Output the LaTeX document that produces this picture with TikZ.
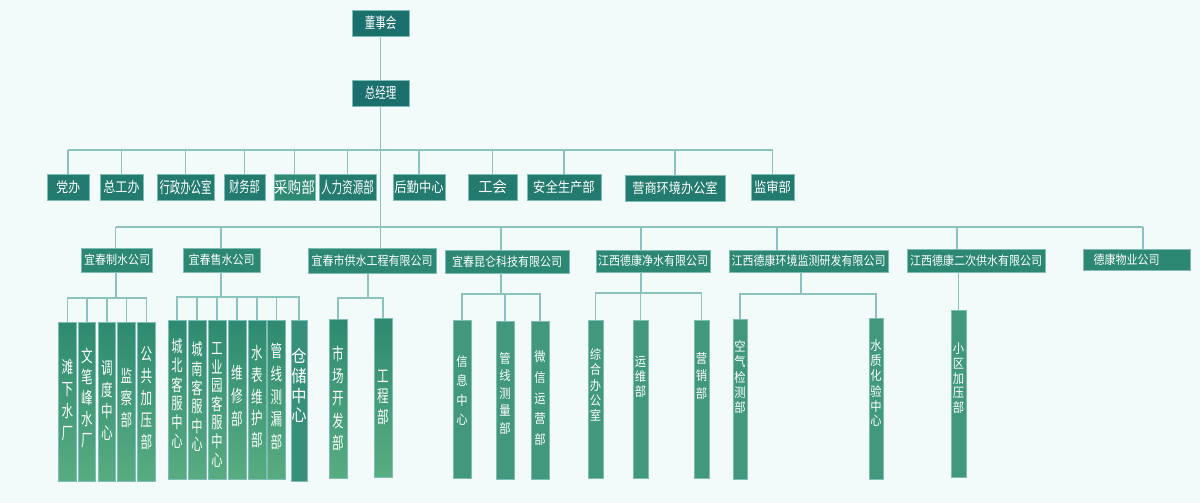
\documentclass[tikz,border=0pt]{standalone}
\usepackage{fontspec}
\usepackage{graphicx}
\newfontfamily\cjk{Noto Sans CJK SC}
\definecolor{bgC}{HTML}{F2FBFA}
\definecolor{lineC}{HTML}{8DC3BE}
\definecolor{borderC}{HTML}{7EBDB5}
\definecolor{topC}{HTML}{1B6F6C}
\definecolor{deptC}{HTML}{237A6E}
\definecolor{cgC}{HTML}{2E8A73}
\definecolor{compC}{HTML}{2C8873}
\definecolor{subTop}{HTML}{2E8A70}
\definecolor{subBot}{HTML}{58AC81}
\definecolor{subFlat}{HTML}{42987D}
\definecolor{storeC}{HTML}{37917A}
\newcommand\sx[3]{\fontsize{#2}{#2}\selectfont\scalebox{#1}[1]{#3}}
\newcommand\vt[4]{\scalebox{#1}[1]{\fontsize{#2}{#3}\selectfont\begin{tabular}{@{}c@{}}#4\end{tabular}}}
\begin{document}
\begin{tikzpicture}[x=1pt,y=-1pt,
  conn/.style={draw=lineC, line width=1.8pt},
  box/.style={draw=borderC, line width=0.6pt, inner sep=0pt, text=white, font=\cjk},
  topbox/.style={box, fill=topC, minimum height=26pt, minimum width=57pt},
  deptbox/.style={box, fill=deptC, minimum height=26pt},
  compbox/.style={box, fill=compC},
  subbox/.style={box, top color=subTop, bottom color=subBot},
  subflat/.style={box, fill=subFlat},
  vtext/.style={inner sep=0pt, text=white, font=\cjk}
]
\useasboundingbox (0,0) rectangle (1200,503);
\fill[bgC] (0,0) rectangle (1200,503);

% top
\node[topbox] (board) at (380.5,23) {\sx{0.7}{15}{董事会}};
\node[topbox] (gm) at (380.5,93) {\sx{0.7}{15}{总经理}};

% departments
\node[deptbox, minimum width=42.5pt] (d1) at (68.3,187) {\sx{0.85}{14}{党办}};
\node[deptbox, minimum width=43pt] (d2) at (121.5,187) {\sx{0.83}{14.5}{总工办}};
\node[deptbox, minimum width=57pt] (d3) at (185.5,187) {\sx{0.65}{16}{行政办公室}};
\node[deptbox, minimum width=41pt] (d4) at (244.5,187) {\sx{0.68}{15}{财务部}};
\node[deptbox, fill=cgC, minimum width=41pt] (d5) at (294.5,187) {\sx{0.85}{16}{采购部}};
\node[deptbox, minimum width=57pt] (d6) at (347.5,187) {\sx{0.66}{16}{人力资源部}};
\node[deptbox, minimum width=52pt] (d7) at (419,187) {\sx{0.88}{14}{后勤中心}};
\node[deptbox, minimum width=49pt] (d8) at (492.5,187) {\sx{0.95}{15}{工会}};
\node[deptbox, minimum width=74pt] (d9) at (564,187) {\sx{0.88}{14}{安全生产部}};
\node[deptbox, minimum width=100pt] (d10) at (675,188) {\sx{0.87}{14}{营商环境办公室}};
\node[deptbox, minimum width=43pt] (d11) at (772.5,187) {\sx{0.88}{14}{监审部}};

% companies
\node[compbox, minimum width=71pt, minimum height=24pt] (c1) at (117,260) {\sx{0.88}{12.5}{宜春制水公司}};
\node[compbox, minimum width=77pt, minimum height=24pt] (c2) at (221.5,260) {\sx{0.88}{12.5}{宜春售水公司}};
\node[compbox, minimum width=128pt, minimum height=25pt] (c3) at (372,260.5) {\sx{0.88}{12.5}{宜春市供水工程有限公司}};
\node[compbox, minimum width=124pt, minimum height=23pt] (c4) at (507,261.5) {\sx{0.88}{12.5}{宜春昆仑科技有限公司}};
\node[compbox, minimum width=114pt, minimum height=22pt] (c5) at (653,261) {\sx{0.88}{12.5}{江西德康净水有限公司}};
\node[compbox, minimum width=159pt, minimum height=22pt] (c6) at (808.5,261) {\sx{0.88}{12.5}{江西德康环境监测研发有限公司}};
\node[compbox, minimum width=138pt, minimum height=23pt] (c7) at (976,260.5) {\sx{0.88}{12.5}{江西德康二次供水有限公司}};
\node[compbox, minimum width=107pt, minimum height=21pt] (c8) at (1136.5,259.5) {\hspace*{-20pt}\sx{0.88}{12.5}{德康物业公司}};

% sub units: 宜春制水公司
\node[subbox, minimum width=17.5pt, minimum height=159pt] (s1a) at (67.5,401.5) {};
\node[subbox, minimum width=17.5pt, minimum height=159pt] (s1b) at (87,401.5) {};
\node[subbox, minimum width=17.5pt, minimum height=159pt] (s1c) at (107,401.5) {};
\node[subbox, minimum width=17.5pt, minimum height=159pt] (s1d) at (126.5,401.5) {};
\node[subbox, minimum width=17.5pt, minimum height=159pt] (s1e) at (146.5,401.5) {};
\node[vtext] (t1a) at (67.5,402) {\vt{0.68}{17}{22}{滩\\下\\水\\厂}};
\node[vtext] (t1b) at (87,400.3) {\vt{0.68}{17}{21}{文\\笔\\峰\\水\\厂}};
\node[vtext] (t1c) at (107,402.7) {\vt{0.68}{17}{21.5}{调\\度\\中\\心}};
\node[vtext] (t1d) at (126.5,400.3) {\vt{0.68}{17}{22}{监\\察\\部}};
\node[vtext] (t1e) at (146.5,400.3) {\vt{0.68}{17}{22}{公\\共\\加\\压\\部}};

% 宜春售水公司
\node[subbox, minimum width=18pt, minimum height=159pt] (s2a) at (177,399.5) {};
\node[subbox, minimum width=18pt, minimum height=159pt] (s2b) at (197,399.5) {};
\node[subbox, minimum width=18pt, minimum height=159pt] (s2c) at (217,399.5) {};
\node[subbox, minimum width=18pt, minimum height=159pt] (s2d) at (237,399.5) {};
\node[subbox, minimum width=18pt, minimum height=159pt] (s2e) at (257,399.5) {};
\node[subbox, minimum width=18pt, minimum height=159pt] (s2f) at (276.5,399.5) {};
\node[box, fill=storeC, minimum width=16pt, minimum height=161pt] (s2g) at (299,400.5) {};
\node[vtext] (t2a) at (177,395.8) {\vt{0.68}{16.5}{17.7}{城\\北\\客\\服\\中\\心}};
\node[vtext] (t2b) at (197,399) {\vt{0.68}{16.5}{17.7}{城\\南\\客\\服\\中\\心}};
\node[vtext] (t2c) at (217,407) {\vt{0.68}{16.5}{16.6}{工\\业\\园\\客\\服\\中\\心}};
\node[vtext] (t2d) at (237,397.7) {\vt{0.68}{17}{22.8}{维\\修\\部}};
\node[vtext] (t2e) at (257,398.7) {\vt{0.68}{17}{21.8}{水\\表\\维\\护\\部}};
\node[vtext] (t2f) at (276.5,398.7) {\vt{0.68}{17}{22.7}{管\\线\\测\\漏\\部}};
\node[vtext] (t2g) at (299,387.8) {\vt{0.9}{17}{18.6}{仓\\储\\中\\心}};

% 宜春市供水工程有限公司
\node[subbox, minimum width=18pt, minimum height=159pt] (s3a) at (338,398.5) {};
\node[subbox, minimum width=18pt, minimum height=159pt] (s3b) at (383,397.5) {};
\node[vtext] (t3a) at (338,400.3) {\vt{0.68}{17}{22.3}{市\\场\\开\\发\\部}};
\node[vtext] (t3b) at (383,399) {\vt{0.68}{17}{20}{工\\程\\部}};

% 宜春昆仑科技有限公司
\node[subflat, minimum width=18pt, minimum height=158pt] (s4a) at (462,399) {};
\node[subflat, minimum width=18pt, minimum height=158pt] (s4b) at (505,400) {};
\node[subflat, minimum width=18pt, minimum height=158pt] (s4c) at (540,400) {};
\node[vtext] (t4a) at (462,391.5) {\vt{0.87}{13}{19.4}{信\\息\\中\\心}};
\node[vtext] (t4b) at (505,394.8) {\vt{0.87}{13}{17.4}{管\\线\\测\\量\\部}};
\node[vtext] (t4c) at (540,399) {\vt{0.87}{13}{20.6}{微\\信\\运\\营\\部}};

% 江西德康净水有限公司
\node[subflat, minimum width=15pt, minimum height=158pt] (s5a) at (595.5,399) {};
\node[subflat, minimum width=15pt, minimum height=158pt] (s5b) at (640.5,399) {};
\node[subflat, minimum width=15pt, minimum height=158pt] (s5c) at (701.5,399) {};
\node[vtext] (t5a) at (595.5,386.7) {\vt{0.87}{13}{14.3}{综\\合\\办\\公\\室}};
\node[vtext] (t5b) at (640.5,378.7) {\vt{0.87}{13}{14.7}{运\\维\\部}};
\node[vtext] (t5c) at (701.5,377) {\vt{0.87}{13}{17.5}{营\\销\\部}};

% 江西德康环境监测研发有限公司
\node[subflat, minimum width=14pt, minimum height=160pt] (s6a) at (740,399) {};
\node[subflat, minimum width=14pt, minimum height=161pt] (s6b) at (876,398.5) {};
\node[vtext] (t6a) at (740,378.7) {\vt{0.87}{13}{14.3}{空\\气\\检\\测\\部}};
\node[vtext] (t6b) at (876,385) {\vt{0.87}{13}{14}{水\\质\\化\\验\\中\\心}};

% 江西德康二次供水有限公司
\node[subflat, minimum width=15pt, minimum height=167pt] (s7a) at (958.5,393.5) {};
\node[vtext] (t7a) at (958.5,380) {\vt{0.87}{13}{14.2}{小\\区\\加\\压\\部}};

% connectors: top
\draw[conn] (board.south) -- (gm.north);
\coordinate (dbar) at (380.5,150);
\draw[conn] (d1.north |- dbar) -- (d11.north |- dbar);
\foreach \d in {d1,d2,d3,d4,d5,d6,d7,d8,d9,d10,d11}
  \draw[conn] (\d.north) -- (\d.north |- dbar);
\draw[conn] (gm.south) -- (gm.south |- c3.north);

% connectors: companies
\coordinate (cbar) at (380.5,227);
\coordinate (k1) at (115.5,227);
\coordinate (k2) at (221,227);
\coordinate (k4) at (501,227);
\coordinate (k5) at (641,227);
\coordinate (k6) at (777,227);
\coordinate (k7) at (957,227);
\coordinate (k8) at (1143,227);
\draw[conn] (k1) -- (k8);
\draw[conn] (k1) -- (k1 |- c1.north);
\draw[conn] (k2) -- (k2 |- c2.north);
\draw[conn] (k4) -- (k4 |- c4.north);
\draw[conn] (k5) -- (k5 |- c5.north);
\draw[conn] (k6) -- (k6 |- c6.north);
\draw[conn] (k7) -- (k7 |- c7.north);
\draw[conn] (k8) -- (k8 |- c8.north);

% connectors: sub units
\coordinate (b1) at (115.7,298);
\draw[conn] (c1.south -| b1) -- (b1);
\foreach \s in {s1a,s1b,s1c,s1d,s1e} \draw[conn] (\s.north) |- (b1);
\coordinate (b2) at (220.7,297);
\draw[conn] (c2.south -| b2) -- (b2);
\foreach \s in {s2a,s2b,s2c,s2d,s2e,s2f,s2g} \draw[conn] (\s.north) |- (b2);
\coordinate (b3) at (368,298);
\draw[conn] (c3.south -| b3) -- (b3);
\foreach \s in {s3a,s3b} \draw[conn] (\s.north) |- (b3);
\coordinate (b4) at (501,294);
\draw[conn] (c4.south -| b4) -- (b4);
\foreach \s in {s4a,s4b,s4c} \draw[conn] (\s.north) |- (b4);
\coordinate (b5) at (640.7,293);
\draw[conn] (c5.south -| b5) -- (b5);
\foreach \s in {s5a,s5b,s5c} \draw[conn] (\s.north) |- (b5);
\coordinate (b6) at (801,294);
\draw[conn] (c6.south -| b6) -- (b6);
\foreach \s in {s6a,s6b} \draw[conn] (\s.north) |- (b6);
\draw[conn] (c7.south -| s7a.north) -- (s7a.north);
\end{tikzpicture}
\end{document}
